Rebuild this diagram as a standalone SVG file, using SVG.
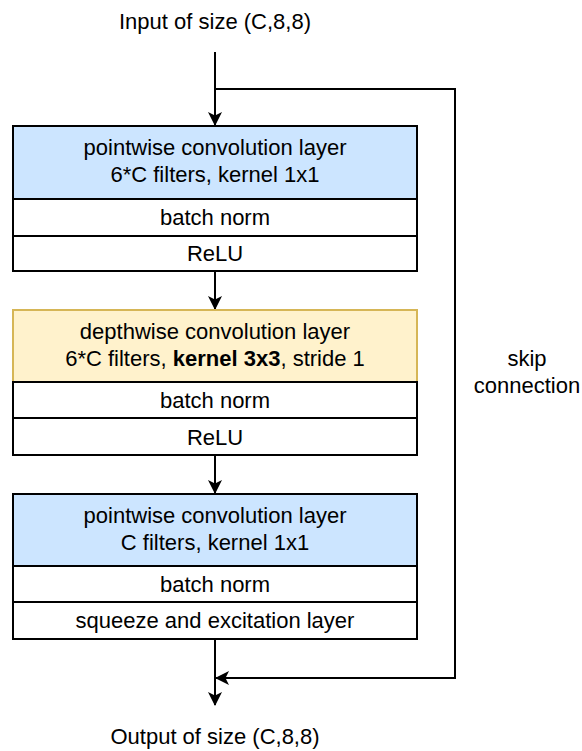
<svg xmlns="http://www.w3.org/2000/svg" width="582" height="751" viewBox="0 0 582 751">
<style>
text{font-family:"Liberation Sans",Arial,sans-serif;font-size:22px;fill:#000;text-anchor:middle}
.w{fill:#fff;stroke:#000;stroke-width:2}
.b{fill:#cce5ff;stroke:#000;stroke-width:2}
.y{fill:#fff2cc;stroke:#d6b656;stroke-width:2}
.c{fill:none;stroke:#000;stroke-width:2}
</style>
<defs>
<marker id="ah" viewBox="0 0 14 14" refX="13" refY="7" markerWidth="14" markerHeight="14" markerUnits="userSpaceOnUse" orient="auto">
<path d="M0,0 L14,7 L0,14 L3.5,7 Z" fill="#000"/>
</marker>
</defs>
<rect width="582" height="751" fill="#fff"/>
<text x="215" y="29">Input of size (C,8,8)</text>
<text x="215" y="744">Output of size (C,8,8)</text>
<g id="connectors">
<path class="c" d="M215,52 V125" marker-end="url(#ah)"/>
<path class="c" d="M215,89 H455 V678 H216" marker-end="url(#ah)"/>
<path class="c" d="M215,271 V309" marker-end="url(#ah)"/>
<path class="c" d="M215,455 V493" marker-end="url(#ah)"/>
<path class="c" d="M215,639 V705" marker-end="url(#ah)"/>
<text x="527" y="366">skip</text>
<text x="527" y="393">connection</text>
</g>
<g id="block1">
<rect class="b" x="13" y="126" width="404" height="73"/>
<rect class="w" x="13" y="199" width="404" height="37"/>
<rect class="w" x="13" y="236" width="404" height="35"/>
<text x="215" y="155">pointwise convolution layer</text>
<text x="215" y="182">6*C filters, kernel 1x1</text>
<text x="215" y="225">batch norm</text>
<text x="215" y="261">ReLU</text>
</g>
<g id="block2">
<rect class="y" x="13" y="310" width="404" height="72"/>
<rect class="w" x="13" y="382" width="404" height="36"/>
<rect class="w" x="13" y="418" width="404" height="37"/>
<text x="215" y="339">depthwise convolution layer</text>
<text x="215" y="366">6*C filters, <tspan font-weight="bold">kernel 3x3</tspan>, stride 1</text>
<text x="215" y="408">batch norm</text>
<text x="215" y="445">ReLU</text>
</g>
<g id="block3">
<rect class="b" x="13" y="494" width="404" height="72"/>
<rect class="w" x="13" y="566" width="404" height="36"/>
<rect class="w" x="13" y="602" width="404" height="37"/>
<text x="215" y="523">pointwise convolution layer</text>
<text x="215" y="550">C filters, kernel 1x1</text>
<text x="215" y="592">batch norm</text>
<text x="215" y="628">squeeze and excitation layer</text>
</g>
</svg>
